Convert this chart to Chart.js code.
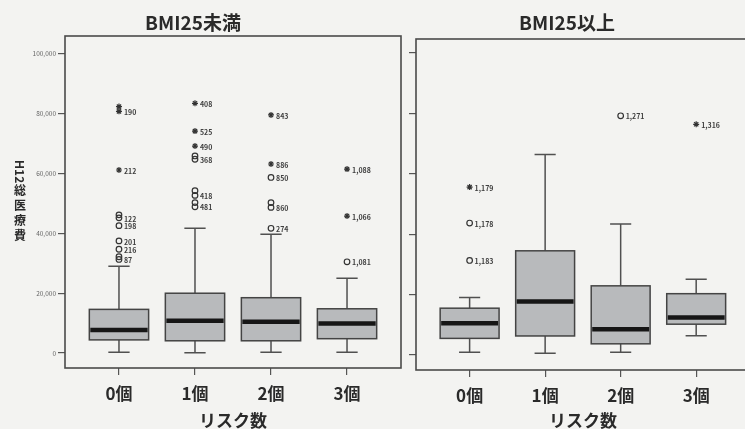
<!DOCTYPE html>
<html>
<head>
<meta charset="utf-8">
<script src="https://cdn.jsdelivr.net/npm/chart.js@4.4.0/dist/chart.umd.min.js"></script>
<style>
html,body{margin:0;padding:0;width:745px;height:429px;overflow:hidden;background:#f3f3f1}
canvas{position:absolute;top:0}
#c1{left:0}
#c2{left:405px}
</style>
</head>
<body>
<canvas id="c1" width="410" height="429"></canvas>
<canvas id="c2" width="350" height="429"></canvas>
<script>
// ── Datos ─────────────────────────────────────────────
const categories = ['0個', '1個', '2個', '3個'];
const yTicks = [0, 20000, 40000, 60000, 80000, 100000];

// BMI25未満
const lowMin = [300, 100, 300, 300];
const lowQ1 = [4400, 4100, 4100, 4800];
const lowMed = [7700, 10800, 10500, 9900];
const lowQ3 = [14600, 20000, 18500, 14800];
const lowMax = [29000, 41700, 39700, 25000];
const lowOutCat = [0, 0, 0, 0, 0, 0, 0, 0, 0, 0,
                   1, 1, 1, 1, 1, 1, 1, 1, 1,
                   2, 2, 2, 2, 2, 2,
                   3, 3, 3];
const lowOutVal = [82400, 80800, 61200, 46200, 45200, 42600, 37500, 34700, 32200, 31300,
                   83500, 74200, 69200, 65900, 64800, 54300, 52700, 50300, 48900,
                   79600, 63200, 58700, 50300, 48700, 41700,
                   61500, 45800, 30500];
const lowOutType = ['*', '*', '*', 'o', 'o', 'o', 'o', 'o', 'o', 'o',
                    '*', '*', '*', 'o', 'o', 'o', 'o', 'o', 'o',
                    '*', '*', 'o', 'o', 'o', 'o',
                    '*', '*', 'o'];
const lowOutLabel = ['', '190', '212', '', '122', '198', '201', '216', '', '87',
                     '408', '525', '490', '', '368', '', '418', '', '481',
                     '843', '886', '850', '', '860', '274',
                     '1,088', '1,066', '1,081'];

// BMI25以上
const highMin = [900, 600, 900, 6400];
const highQ1 = [5500, 6300, 3700, 10200];
const highMed = [10500, 17700, 8500, 12400];
const highQ3 = [15500, 34500, 22900, 20300];
const highMax = [19000, 66400, 43400, 25100];
const highOutCat = [0, 0, 0, 2, 3];
const highOutVal = [55600, 43700, 31300, 79200, 76400];
const highOutType = ['*', 'o', 'o', 'o', '*'];
const highOutLabel = ['1,179', '1,178', '1,183', '1,271', '1,316'];

// ── Estilo ────────────────────────────────────────────
const JP = '"Noto Sans CJK JP", "Noto Sans", sans-serif';

function outlierSets(cats, vals, types) {
  const circ = [], star = [];
  cats.forEach((c, i) => {
    (types[i] === '*' ? star : circ).push({ x: c, y: vals[i] });
  });
  return [
    { data: circ, pointStyle: 'circle', pointRadius: 2.8, borderColor: '#333', backgroundColor: 'rgba(0,0,0,0)', borderWidth: 1.2 },
    { data: star, pointStyle: 'star', pointRadius: 3, borderColor: '#333', backgroundColor: '#333', borderWidth: 1.2 }
  ];
}

// plugin: cajas, marco, títulos, etiquetas de puntos
function boxPlugin(cfg) {
  return {
    id: 'box_' + cfg.name,
    beforeDatasetsDraw(chart) {
      const ctx = chart.ctx, x = chart.scales.x, y = chart.scales.y;
      ctx.save();
      categories.forEach((c, i) => {
        const cx = x.getPixelForValue(i);
        const hw = x.getPixelForValue(i + 0.39) - cx;
        const cw = x.getPixelForValue(i + 0.14) - cx;
        const pMin = y.getPixelForValue(cfg.min[i]), pMax = y.getPixelForValue(cfg.max[i]);
        const p1 = y.getPixelForValue(cfg.q1[i]), p3 = y.getPixelForValue(cfg.q3[i]);
        const pm = y.getPixelForValue(cfg.med[i]);
        ctx.strokeStyle = '#505050';
        ctx.lineWidth = 1.5;
        ctx.beginPath();
        ctx.moveTo(cx, p3); ctx.lineTo(cx, pMax);
        ctx.moveTo(cx, p1); ctx.lineTo(cx, pMin);
        ctx.moveTo(cx - cw, pMax); ctx.lineTo(cx + cw, pMax);
        ctx.moveTo(cx - cw, pMin); ctx.lineTo(cx + cw, pMin);
        ctx.stroke();
        ctx.fillStyle = '#b8babc';
        ctx.fillRect(cx - hw, p3, hw * 2, p1 - p3);
        ctx.strokeStyle = '#444';
        ctx.strokeRect(cx - hw, p3, hw * 2, p1 - p3);
        ctx.strokeStyle = '#161616';
        ctx.lineWidth = 4.5;
        ctx.beginPath();
        ctx.moveTo(cx - hw + 1, pm); ctx.lineTo(cx + hw - 1, pm);
        ctx.stroke();
      });
      ctx.restore();
    },
    afterDatasetsDraw(chart) {
      const ctx = chart.ctx, x = chart.scales.x, y = chart.scales.y, a = chart.chartArea;
      ctx.save();
      // etiquetas de atípicos
      ctx.fillStyle = '#404040';
      ctx.font = 'bold 7px ' + JP;
      ctx.textBaseline = 'middle';
      ctx.textAlign = 'left';
      cfg.outCat.forEach((c, i) => {
        if (!cfg.outLabel[i]) return;
        ctx.fillText(cfg.outLabel[i], x.getPixelForValue(c) + 5, y.getPixelForValue(cfg.outVal[i]) + 1);
      });
      // marco
      ctx.strokeStyle = '#4a4a4a';
      ctx.lineWidth = 1.6;
      ctx.strokeRect(a.left, a.top, a.right - a.left, a.bottom - a.top);
      // título del panel
      ctx.fillStyle = '#2a2a2a';
      ctx.font = 'bold 19px ' + JP;
      ctx.textAlign = 'center';
      ctx.fillText(cfg.title, cfg.titleX, 23);
      // título vertical del eje y
      if (cfg.yTitle) {
        ctx.font = 'bold 12px ' + JP;
        ctx.save();
        ctx.translate(20, 160);
        ctx.rotate(Math.PI / 2);
        ctx.textAlign = 'left';
        ctx.fillText('H12', 0, 0);
        ctx.restore();
        ctx.textAlign = 'center';
        ctx.textBaseline = 'top';
        [...'総医療費'].forEach((ch, k) => ctx.fillText(ch, 20, 184 + k * 15));
      }
      ctx.restore();
    }
  };
}

function makeChart(id, cfg) {
  return new Chart(document.getElementById(id), {
    type: 'scatter',
    data: { datasets: outlierSets(cfg.outCat, cfg.outVal, cfg.outType) },
    options: {
      responsive: false,
      animation: false,
      events: [],
      layout: { padding: { top: cfg.top, right: cfg.right, left: 0, bottom: 0 } },
      plugins: { legend: { display: false }, tooltip: { enabled: false } },
      scales: {
        x: {
          type: 'linear', min: -0.71, max: 3.71,
          afterBuildTicks: s => { s.ticks = categories.map((c, i) => ({ value: i })); },
          afterFit: s => { s.height = cfg.xHeight; },
          ticks: { callback: v => categories[v], color: '#2a2a2a', font: { family: JP, size: 17, weight: 'bold' }, padding: 8, maxRotation: 0, autoSkip: false },
          grid: { drawOnChartArea: false, drawTicks: true, tickLength: 7, color: '#555', lineWidth: 1.2 },
          border: { display: false },
          title: { display: true, text: 'リスク数', color: '#2a2a2a', font: { family: JP, size: 17, weight: 'bold', lineHeight: 1 }, padding: { top: 0, bottom: 0 } }
        },
        y: {
          min: cfg.ymin, max: cfg.ymax,
          afterBuildTicks: s => { s.ticks = yTicks.map(v => ({ value: v })); },
          afterFit: s => { s.width = cfg.yWidth; },
          ticks: { display: cfg.yLabels, callback: v => v.toLocaleString('en-US'), color: '#666', font: { family: JP, size: 6.5 }, padding: 2 },
          grid: { drawOnChartArea: false, drawTicks: true, tickLength: 7, color: '#555', lineWidth: 1.2 },
          border: { display: false }
        }
      }
    },
    plugins: [boxPlugin(cfg)]
  });
}

makeChart('c1', {
  name: 'low', title: 'BMI25未満', titleX: 193, yTitle: true, yLabels: true,
  min: lowMin, q1: lowQ1, med: lowMed, q3: lowQ3, max: lowMax,
  outCat: lowOutCat, outVal: lowOutVal, outType: lowOutType, outLabel: lowOutLabel,
  top: 36, right: 9, xHeight: 61, yWidth: 65, ymin: -5000, ymax: 106000
});

makeChart('c2', {
  name: 'high', title: 'BMI25以上', titleX: 162, yTitle: false, yLabels: false,
  min: highMin, q1: highQ1, med: highMed, q3: highQ3, max: highMax,
  outCat: highOutCat, outVal: highOutVal, outType: highOutType, outLabel: highOutLabel,
  top: 39, right: 3, xHeight: 59, yWidth: 11, ymin: -4970, ymax: 104640
});
</script>
</body>
</html>
